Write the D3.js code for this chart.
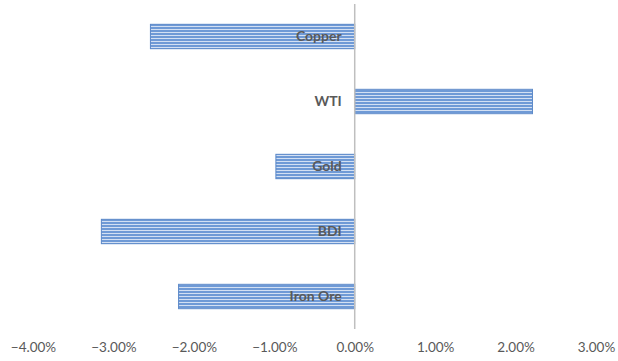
<!DOCTYPE html>
<html>
<head>
<meta charset="utf-8">
<script src="https://cdn.jsdelivr.net/npm/d3@7"></script>
<style>
  body { margin: 0; background: #fff; }
</style>
</head>
<body>
<div id="chart"></div>
<script>
// data
const categories = ["Copper", "WTI", "Gold", "BDI", "Iron Ore"];
const changes = [-0.0254, 0.0221, -0.0098, -0.0315, -0.0219];
const tickValues = [-0.04, -0.03, -0.02, -0.01, 0, 0.01, 0.02, 0.03];

const w = 618;
const h = 361;
const margin = { top: 4, right: 22, bottom: 36, left: 33 };

const svg = d3
  .select("#chart")
  .append("svg")
  .attr("width", w)
  .attr("height", h);

// striped fill like the excel "narrow horizontal" pattern
const pat = svg
  .append("defs")
  .append("pattern")
  .attr("id", "stripes")
  .attr("patternUnits", "userSpaceOnUse")
  .attr("width", 4)
  .attr("height", 3);
pat.append("rect").attr("width", 4).attr("height", 3).attr("fill", "#d3e0f3");
pat.append("rect").attr("width", 4).attr("height", 2).attr("fill", "#6f9ad6");

const xScale = d3
  .scaleLinear()
  .domain([-0.04, 0.03])
  .range([margin.left, w - margin.right]);

const yScale = d3
  .scaleBand()
  .domain(categories)
  .range([margin.top, h - margin.bottom + 4])
  .paddingInner(0.625)
  .paddingOuter(0.3125);

// bars
svg
  .append("g")
  .selectAll("rect")
  .data(categories)
  .join("rect")
  .attr("x", (d, i) => xScale(Math.min(0, changes[i])))
  .attr("y", (d) => yScale(d))
  .attr("width", (d, i) => Math.abs(xScale(changes[i]) - xScale(0)))
  .attr("height", yScale.bandwidth())
  .attr("fill", "url(#stripes)")
  .attr("stroke", "#5b88c8")
  .attr("stroke-width", 1);

// zero line
svg
  .append("line")
  .attr("x1", xScale(0))
  .attr("x2", xScale(0))
  .attr("y1", margin.top)
  .attr("y2", h - margin.bottom + 4)
  .attr("stroke", "#bfbfbf")
  .attr("stroke-width", 1.5);

// category labels next to the axis
svg
  .append("g")
  .selectAll("text")
  .data(categories)
  .join("text")
  .attr("x", xScale(0) - 13)
  .attr("y", (d) => yScale(d) + yScale.bandwidth() / 2)
  .attr("dy", "0.35em")
  .attr("text-anchor", "end")
  .attr("fill", "#595959")
  .style("font-family", "Lato, 'Open Sans', sans-serif")
  .style("font-weight", "bold")
  .style("font-size", "14px")
  .text((d) => d);

// x axis tick labels only
const xAxis = svg
  .append("g")
  .attr("transform", `translate(0, ${h - 14})`)
  .call(
    d3.axisBottom(xScale)
      .tickValues(tickValues)
      .tickFormat(d3.format(".2%"))
      .tickSize(0)
  );
xAxis.select(".domain").remove();
xAxis
  .selectAll("text")
  .attr("y", 0)
  .attr("dy", "0.35em")
  .attr("fill", "#595959")
  .style("font-family", "Lato, 'Open Sans', sans-serif")
  .style("font-size", "13.5px");
</script>
</body>
</html>
